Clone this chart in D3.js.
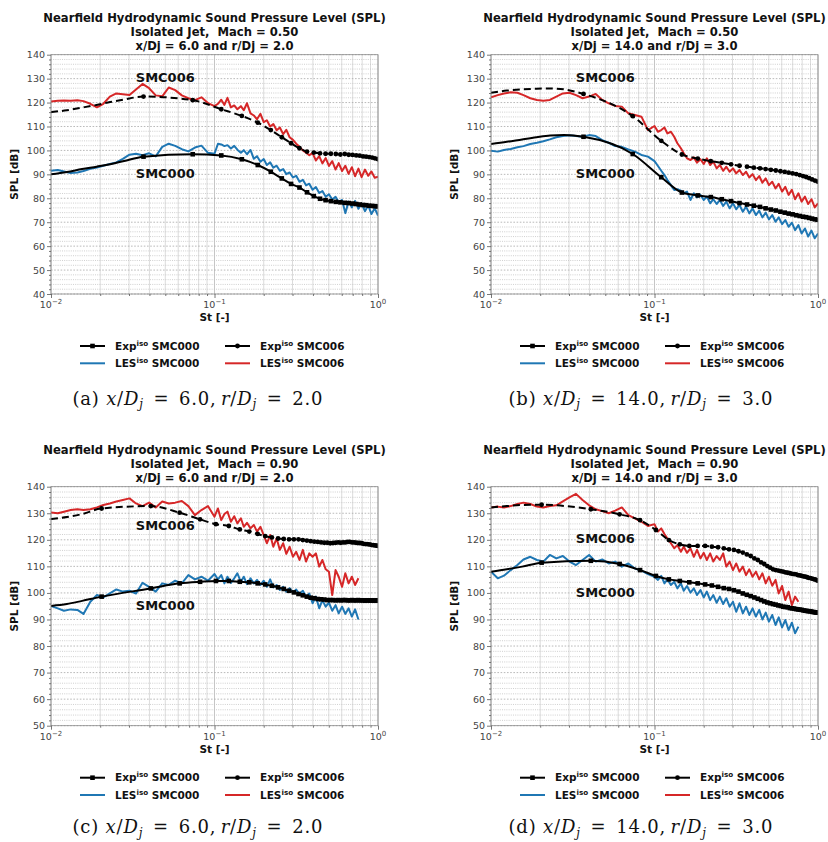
<!DOCTYPE html>
<html>
<head>
<meta charset="utf-8">
<script src="https://cdn.jsdelivr.net/npm/d3@7"></script>
<style>
  body { margin: 0; background: #fff; }
  svg { display: block; }
  text { white-space: pre; }
</style>
</head>
<body>
<svg id="fig" width="828" height="842"></svg>
<script>
// ---------------- Strouhal grids ----------------
// LES spectra are sampled on this common St grid
const lesSt = [0.0100, 0.0110, 0.0120, 0.0132, 0.0145, 0.0158, 0.0174, 0.0191, 0.0209, 0.0229,
  0.0251, 0.0275, 0.0302, 0.0331, 0.0363, 0.0398, 0.0437, 0.0479, 0.0525, 0.0575,
  0.0631, 0.0692, 0.0759, 0.0832, 0.0912, 0.100, 0.105, 0.110, 0.115, 0.120,
  0.126, 0.132, 0.138, 0.145, 0.151, 0.158, 0.166, 0.174, 0.182, 0.191,
  0.200, 0.209, 0.219, 0.229, 0.240, 0.251, 0.263, 0.275, 0.288, 0.302,
  0.316, 0.331, 0.347, 0.363, 0.380, 0.398, 0.417, 0.437, 0.457, 0.479,
  0.501, 0.525, 0.550, 0.575, 0.603, 0.631, 0.661, 0.692, 0.724, 0.759,
  0.794, 0.832, 0.871, 0.912, 0.955, 1.000];

// Experimental spectra: low-St fit points (no marker) followed by measured bins (marked)
const expLineStM05 = [0.010, 0.0125, 0.0155, 0.019, 0.023, 0.028];
const expBinStM05 = [0.0368, 0.0736, 0.110, 0.147, 0.184, 0.221, 0.258, 0.294, 0.331, 0.368,
  0.405, 0.442, 0.478, 0.515, 0.552, 0.589, 0.626, 0.662, 0.699, 0.736,
  0.773, 0.810, 0.846, 0.883, 0.920, 0.957, 0.994];
const expLineStM09 = [0.010, 0.0125, 0.0155];
const expBinStM09 = [0.0204, 0.0408, 0.0612, 0.0816, 0.102, 0.1224, 0.1428, 0.1632, 0.1836, 0.204,
  0.2244, 0.2448, 0.2652, 0.2856, 0.306, 0.3264, 0.3468, 0.3672, 0.3876, 0.408,
  0.4284, 0.4488, 0.4692, 0.4896, 0.510, 0.5304, 0.5508, 0.5712, 0.5916, 0.612,
  0.6324, 0.6528, 0.6732, 0.6936, 0.714, 0.7344, 0.7548, 0.7752, 0.7956, 0.816,
  0.8364, 0.8568, 0.8772, 0.8976, 0.918, 0.9384, 0.9588, 0.9792, 0.9996];

// ---------------- SPL [dB] ----------------
// (a) Mach 0.50, x/Dj = 6, r/Dj = 2
const expA000 = [90.0, 91.0, 92.2, 93.2, 94.2, 95.6,
  97.4, 98.4, 97.9, 96.3, 93.9, 91.1, 88.3, 86.0, 84.5, 82.5,
  80.9, 79.8, 79.2, 78.8, 78.5, 78.3, 78.1, 78.0, 77.8, 77.6,
  77.4, 77.2, 77.1, 76.9, 76.8, 76.7, 76.6];
const expA006 = [116.0, 116.8, 117.9, 119.0, 120.2, 121.3,
  122.5, 121.0, 117.2, 114.4, 111.6, 108.5, 105.5, 103.0, 100.9, 99.5,
  99.1, 98.8, 98.6, 98.6, 98.5, 98.3, 98.5, 98.2, 98.1, 97.9,
  97.8, 97.5, 97.4, 97.2, 97.0, 96.7, 96.4];
const lesA000 = [91.5, 91.8, 91.2, 90.6, 90.8, 91.4, 92.3, 92.9, 93.6, 94.3,
  95.0, 96.5, 98.2, 98.6, 98.0, 98.8, 97.5, 101.5, 102.8, 101.9,
  100.5, 99.6, 101.2, 102.0, 99.0, 98.6, 102.8, 102.5, 101.8, 102.2,
  100.8, 101.9, 100.3, 99.0, 100.1, 98.4, 100.2, 96.5, 97.6, 95.3,
  96.4, 93.9, 95.0, 92.8, 93.6, 91.5, 92.2, 90.1, 90.8, 88.7,
  89.4, 86.9, 87.7, 85.4, 86.1, 83.6, 84.7, 82.2, 83.0, 80.6,
  81.7, 79.5, 80.6, 78.4, 79.3, 73.8, 78.6, 76.2, 78.9, 75.6,
  77.8, 74.6, 77.0, 73.4, 75.8, 72.8];
const lesA006 = [120.4, 120.8, 120.9, 120.8, 121.0, 120.6, 119.5, 118.0, 119.5, 122.5,
  123.8, 123.5, 123.2, 125.5, 127.8, 126.0, 123.0, 122.6, 126.3, 125.2,
  123.0, 121.8, 121.0, 122.2, 119.8, 118.5, 119.5, 121.2, 119.0, 122.0,
  118.0, 118.8, 117.2, 118.5, 116.8, 119.7, 115.5, 114.6, 113.0, 115.3,
  111.8, 112.6, 110.0, 111.0, 108.4, 109.6, 106.8, 108.6, 105.5, 104.4,
  102.8, 101.5, 100.0, 99.0, 98.0, 98.9, 95.8, 97.6, 94.6, 96.8,
  93.5, 95.5, 92.0, 94.7, 91.4, 93.6, 90.2, 93.0, 89.2, 92.4,
  88.8, 92.0, 89.4, 91.2, 88.6, 89.0];

// (b) Mach 0.50, x/Dj = 14, r/Dj = 3
const expB000 = [102.7, 103.6, 104.6, 105.5, 106.2, 106.4,
  105.7, 98.5, 88.8, 82.4, 81.2, 80.5, 79.6, 78.8, 78.0, 77.4,
  76.9, 76.4, 75.8, 75.3, 74.9, 74.4, 74.0, 73.6, 73.3, 72.9,
  72.6, 72.3, 72.1, 71.8, 71.5, 71.2, 71.0];
const expB006 = [124.1, 125.0, 125.5, 125.8, 125.9, 125.5,
  123.6, 114.3, 104.0, 98.3, 96.6, 95.5, 94.8, 94.2, 93.6, 93.2,
  92.8, 92.5, 92.2, 91.9, 91.6, 91.3, 91.0, 90.7, 90.4, 90.1,
  89.7, 89.3, 88.9, 88.4, 87.9, 87.4, 87.0];
const lesB000 = [99.9, 99.5, 100.2, 100.6, 101.3, 101.8, 102.7, 103.2, 103.8, 104.6,
  105.5, 106.0, 106.3, 106.0, 105.7, 106.4, 106.0, 104.3, 103.2, 101.8,
  101.5, 100.4, 99.5, 98.1, 97.4, 95.5, 93.5, 91.5, 89.7, 87.6,
  85.5, 83.5, 83.8, 83.2, 82.1, 82.8, 79.3, 82.1, 80.4, 81.4,
  79.3, 80.7, 77.9, 79.6, 77.6, 79.3, 76.8, 78.6, 75.8, 77.9,
  75.4, 77.2, 74.4, 76.5, 73.7, 75.8, 73.0, 74.8, 72.0, 74.0,
  71.2, 73.0, 70.2, 72.0, 69.2, 70.9, 68.1, 69.8, 66.7, 68.8,
  65.3, 67.4, 64.0, 66.5, 63.3, 65.3];
const lesB006 = [122.2, 123.1, 123.8, 124.3, 124.1, 123.1, 121.8, 121.1, 120.8, 121.1,
  122.5, 123.8, 124.1, 123.1, 121.8, 122.5, 123.6, 121.1, 119.7, 118.6,
  118.3, 115.5, 114.8, 114.1, 108.5, 110.2, 107.8, 108.5, 109.6, 107.1,
  107.8, 105.7, 103.0, 100.9, 98.8, 96.7, 96.0, 97.1, 94.9, 96.3,
  94.3, 96.7, 93.9, 95.3, 92.5, 93.9, 91.5, 93.2, 91.1, 92.5,
  90.4, 91.8, 89.7, 91.1, 88.7, 90.1, 87.6, 89.3, 86.5, 88.3,
  85.5, 86.9, 84.1, 86.0, 82.8, 84.8, 81.4, 83.5, 79.6, 82.1,
  78.6, 80.7, 77.6, 79.6, 76.2, 77.9];

// (c) Mach 0.90, x/Dj = 6, r/Dj = 2
const expC000 = [95.1, 95.8, 97.0,
  98.6, 101.7, 103.6, 104.2, 104.5, 104.5, 104.2, 104.0, 103.6, 103.2,
  102.7, 102.1, 101.5, 100.8, 100.2, 99.6, 99.1, 98.6, 98.2, 98.0,
  97.7, 97.6, 97.5, 97.3, 97.3, 97.3, 97.2, 97.3, 97.2, 97.3,
  97.3, 97.2, 97.2, 97.3, 97.2, 97.2, 97.3, 97.2, 97.2, 97.2,
  97.1, 97.2, 97.2, 97.1, 97.2, 97.1, 97.1, 97.2, 97.1];
const expC006 = [127.8, 128.6, 129.7,
  131.8, 132.7, 130.2, 127.7, 125.9, 125.2, 123.9, 123.1, 122.2, 121.4,
  120.9, 120.5, 120.3, 120.2, 120.2, 120.2, 119.9, 119.7, 119.5, 119.3,
  119.2, 119.0, 118.9, 118.9, 118.7, 118.8, 118.9, 119.0, 118.9, 119.0,
  119.0, 119.2, 119.2, 119.0, 119.0, 118.9, 118.8, 118.8, 118.7, 118.5,
  118.4, 118.4, 118.3, 118.2, 118.0, 118.0, 117.9, 117.8, 117.7];
const lesC000 = [95.1, 94.2, 93.3, 93.8, 93.6, 92.1, 96.7, 99.2, 98.3, 99.8,
  101.3, 100.5, 100.8, 99.8, 103.8, 102.3, 100.5, 103.6, 103.0, 104.6,
  103.6, 106.7, 105.1, 106.1, 104.6, 107.1, 105.1, 106.7, 103.6, 106.1,
  103.8, 105.5, 107.4, 104.2, 106.1, 103.3, 105.5, 103.6, 104.9, 103.0,
  104.6, 102.3, 105.1, 102.1, 103.0, 101.1, 102.3, 100.5, 101.8, 100.1,
  101.3, 99.6, 100.8, 98.6, 99.8, 96.1, 98.6, 94.2, 97.3, 94.8,
  96.3, 93.3, 95.4, 92.3, 94.8, 92.1, 94.2, 91.1, 93.8, 90.0];
const lesC006 = [130.3, 130.0, 130.6, 131.2, 131.5, 131.2, 131.5, 132.2, 133.1, 133.7,
  134.4, 135.0, 135.6, 133.7, 132.7, 134.0, 132.2, 134.4, 133.7, 134.0,
  134.6, 132.7, 129.3, 131.2, 132.7, 128.7, 131.8, 127.4, 129.7, 130.6,
  126.8, 128.9, 126.2, 128.1, 124.9, 126.4, 124.3, 125.6, 123.1, 124.9,
  121.8, 118.7, 121.8, 117.4, 120.5, 116.2, 118.7, 114.7, 117.4, 113.6,
  115.5, 112.4, 116.2, 111.8, 114.9, 113.6, 114.9, 109.9, 112.4, 108.9,
  108.0, 99.2, 108.6, 106.1, 102.3, 107.4, 103.6, 106.1, 103.0, 105.5];

// (d) Mach 0.90, x/Dj = 14, r/Dj = 3
const expD000 = [108.0, 108.9, 109.9,
  111.4, 112.1, 110.9, 108.6, 106.4, 105.1, 104.5, 104.0, 103.6, 103.2,
  102.8, 102.3, 101.8, 101.5, 101.0, 100.5, 99.8, 99.3, 98.8, 98.3,
  97.8, 97.3, 96.8, 96.4, 96.1, 95.8, 95.6, 95.3, 95.1, 94.8,
  94.7, 94.6, 94.3, 94.2, 94.1, 93.9, 93.8, 93.7, 93.6, 93.4,
  93.3, 93.2, 93.1, 93.1, 92.9, 92.8, 92.7, 92.6, 92.6];
const expD006 = [132.2, 132.7, 133.1,
  133.2, 131.5, 129.6, 127.4, 123.7, 119.9, 118.3, 117.7, 117.7, 117.7,
  117.4, 117.2, 116.8, 116.4, 116.2, 115.7, 115.2, 114.5, 113.9, 113.0,
  112.4, 111.5, 110.9, 110.1, 109.5, 108.9, 108.6, 108.4, 108.2, 108.0,
  107.7, 107.6, 107.4, 107.2, 107.1, 107.0, 106.7, 106.6, 106.4, 106.2,
  106.1, 105.9, 105.7, 105.6, 105.4, 105.2, 105.1, 104.8, 104.6];
const lesD000 = [108.0, 105.5, 106.5, 108.6, 110.5, 112.6, 113.6, 112.4, 111.8, 114.3,
  113.0, 113.9, 111.8, 110.5, 112.4, 114.3, 111.8, 112.6, 111.1, 111.8,
  109.9, 111.1, 109.2, 108.4, 107.1, 106.1, 104.9, 106.4, 103.6, 105.1,
  103.0, 104.2, 101.7, 103.6, 100.8, 102.6, 100.1, 101.7, 99.2, 101.1,
  98.3, 100.5, 97.3, 99.2, 96.3, 98.6, 95.8, 98.0, 94.8, 96.7,
  92.9, 96.1, 92.3, 94.8, 91.7, 94.2, 91.1, 93.6, 90.0, 92.6,
  89.2, 91.7, 87.9, 90.8, 87.0, 89.8, 86.0, 88.8, 84.8, 87.3];
const lesD006 = [132.2, 132.5, 132.2, 132.7, 133.5, 134.0, 133.5, 132.5, 132.2, 132.7,
  133.0, 134.5, 136.0, 137.3, 135.0, 133.0, 131.5, 130.8, 130.0, 131.0,
  132.2, 129.3, 128.1, 126.8, 125.2, 125.9, 123.1, 124.3, 122.2, 120.5,
  118.7, 116.8, 118.0, 115.5, 117.4, 115.1, 116.8, 113.6, 116.2, 113.0,
  115.1, 112.4, 114.9, 111.8, 113.9, 112.4, 114.9, 109.9, 111.8, 108.6,
  111.1, 108.0, 109.9, 106.7, 108.9, 106.1, 108.0, 105.1, 107.4, 103.6,
  106.1, 102.7, 104.9, 99.8, 102.6, 97.3, 100.5, 95.4, 98.6, 96.7];

// ---------------- axis ticks and labels ----------------
const yTicksTop = [40, 50, 60, 70, 80, 90, 100, 110, 120, 130, 140];
const yTicksBottom = [50, 60, 70, 80, 90, 100, 110, 120, 130, 140];
const xTicks = [0.01, 0.1, 1];
const xTickExp = ['\u22122', '\u22121', '0'];
const titleLine1 = 'Nearfield Hydrodynamic Sound Pressure Level (SPL)';
const legendNames = ['SMC000', 'SMC006'];

// ---------------- styling ----------------
const FONT = "'DejaVu Sans', Verdana, sans-serif";
const SERIF = "'DejaVu Serif', 'Liberation Serif', serif";
const RED = '#d62728', BLUE = '#1f77b4';
const PW = 327;

const svg = d3.select('#fig');
svg.append('rect').attr('width', 828).attr('height', 842).attr('fill', '#fff');

function expSeries(lineSt, binSt, spl) {
  const st = lineSt.concat(binSt);
  return spl.map((v, i) => ({ st: st[i], spl: v, mark: i >= lineSt.length }));
}
function lesSeries(spl) {
  return spl.map((v, i) => ({ st: lesSt[i], spl: v }));
}

const panels = [
  { key: 'a', left: 51, top: 54.7, height: 239.3, yTicks: yTicksTop, mach: '0.50', xd: '6.0', rd: '2.0',
    exp000: expSeries(expLineStM05, expBinStM05, expA000), exp006: expSeries(expLineStM05, expBinStM05, expA006),
    les000: lesSeries(lesA000), les006: lesSeries(lesA006),
    notes: [{ t: 'SMC006', st: 0.05, spl: 130.5 }, { t: 'SMC000', st: 0.05, spl: 90.6 }],
    capX: 197.5, capW: 250, capDy: 110.5 },
  { key: 'b', left: 491, top: 54.7, height: 239.3, yTicks: yTicksTop, mach: '0.50', xd: '14.0', rd: '3.0',
    exp000: expSeries(expLineStM05, expBinStM05, expB000), exp006: expSeries(expLineStM05, expBinStM05, expB006),
    les000: lesSeries(lesB000), les006: lesSeries(lesB006),
    notes: [{ t: 'SMC006', st: 0.05, spl: 130.5 }, { t: 'SMC000', st: 0.05, spl: 90.6 }],
    capX: 640.5, capW: 264, capDy: 110.5 },
  { key: 'c', left: 51, top: 486.7, height: 239, yTicks: yTicksBottom, mach: '0.90', xd: '6.0', rd: '2.0',
    exp000: expSeries(expLineStM09, expBinStM09, expC000), exp006: expSeries(expLineStM09, expBinStM09, expC006),
    les000: lesSeries(lesC000), les006: lesSeries(lesC006),
    notes: [{ t: 'SMC006', st: 0.05, spl: 125.5 }, { t: 'SMC000', st: 0.05, spl: 95.5 }],
    capX: 197.5, capW: 250, capDy: 107.5 },
  { key: 'd', left: 491, top: 486.7, height: 239, yTicks: yTicksBottom, mach: '0.90', xd: '14.0', rd: '3.0',
    exp000: expSeries(expLineStM09, expBinStM09, expD000), exp006: expSeries(expLineStM09, expBinStM09, expD006),
    les000: lesSeries(lesD000), les006: lesSeries(lesD006),
    notes: [{ t: 'SMC006', st: 0.05, spl: 120.6 }, { t: 'SMC000', st: 0.05, spl: 100.4 }],
    capX: 640.5, capW: 264, capDy: 107.5 }
];

function drawPanel(p) {
  const H = p.height;
  const yMin = p.yTicks[0], yMax = p.yTicks[p.yTicks.length - 1];
  const x = d3.scaleLog().domain([xTicks[0], xTicks[xTicks.length - 1]]).range([0, PW]);
  const y = d3.scaleLinear().domain([yMin, yMax]).range([H, 0]);
  const g = svg.append('g').attr('transform', `translate(${p.left},${p.top})`);

  // grid: verticals at every log subdivision, dotted horizontals every 2 dB
  const xAll = x.ticks();
  g.append('g').selectAll('line').data(xAll).join('line')
    .attr('x1', d => x(d)).attr('x2', d => x(d)).attr('y1', 0).attr('y2', H)
    .attr('stroke', d => xTicks.includes(d) ? '#b8b8b8' : '#d2d2d2').attr('stroke-width', 0.8);
  const yMinor = d3.range(yMin, yMax + 0.01, 2);
  g.append('g').selectAll('line').data(yMinor).join('line')
    .attr('x1', 0).attr('x2', PW).attr('y1', d => y(d)).attr('y2', d => y(d))
    .attr('stroke', d => d % 10 === 0 ? '#a8a8a8' : '#c4c4c4')
    .attr('stroke-width', 0.8).attr('stroke-dasharray', d => d % 10 === 0 ? '1.6,1.6' : '1,1.2');

  // clip lines to the axes box
  const clipId = 'clip-' + p.key;
  g.append('clipPath').attr('id', clipId).append('rect').attr('width', PW).attr('height', H);
  const plot = g.append('g').attr('clip-path', `url(#${clipId})`);

  const smooth = d3.line().x(d => x(d.st)).y(d => y(d.spl)).curve(d3.curveMonotoneX);
  const raw = d3.line().x(d => x(d.st)).y(d => y(d.spl));

  plot.append('path').datum(p.les000).attr('d', raw)
    .attr('fill', 'none').attr('stroke', BLUE).attr('stroke-width', 2).attr('stroke-linejoin', 'round');
  plot.append('path').datum(p.les006).attr('d', raw)
    .attr('fill', 'none').attr('stroke', RED).attr('stroke-width', 2).attr('stroke-linejoin', 'round');

  plot.append('path').datum(p.exp000).attr('d', smooth)
    .attr('fill', 'none').attr('stroke', '#000').attr('stroke-width', 2);
  plot.append('g').selectAll('rect').data(p.exp000.filter(d => d.mark)).join('rect')
    .attr('x', d => x(d.st) - 2.3).attr('y', d => y(d.spl) - 2.3)
    .attr('width', 4.6).attr('height', 4.6).attr('fill', '#000');

  plot.append('path').datum(p.exp006).attr('d', smooth)
    .attr('fill', 'none').attr('stroke', '#000').attr('stroke-width', 2).attr('stroke-dasharray', '7,4');
  plot.append('g').selectAll('circle').data(p.exp006.filter(d => d.mark)).join('circle')
    .attr('cx', d => x(d.st)).attr('cy', d => y(d.spl)).attr('r', 2.4).attr('fill', '#000');

  // curve annotations
  g.append('g').selectAll('text').data(p.notes).join('text')
    .attr('x', d => x(d.st)).attr('y', d => y(d.spl)).attr('dy', '0.36em')
    .attr('text-anchor', 'middle').attr('font-family', FONT).attr('font-weight', 'bold')
    .attr('font-size', 13).attr('fill', '#111').text(d => d.t);

  // frame
  g.append('rect').attr('width', PW).attr('height', H).attr('fill', 'none')
    .attr('stroke', '#8a8a8a').attr('stroke-width', 0.8);

  // y axis
  const yAx = g.append('g').call(d3.axisLeft(y).tickValues(p.yTicks).tickSize(4).tickPadding(2).tickFormat(d3.format('d')));
  const yAxMinor = g.append('g').call(d3.axisLeft(y).tickValues(yMinor.filter(v => v % 10 !== 0)).tickSize(2).tickFormat(''));
  // x axis
  const xAx = g.append('g').attr('transform', `translate(0,${H})`)
    .call(d3.axisBottom(x).tickValues(xTicks).tickSize(4).tickPadding(3).tickFormat(''));
  const xAxMinor = g.append('g').attr('transform', `translate(0,${H})`)
    .call(d3.axisBottom(x).tickValues(xAll.filter(v => !xTicks.includes(v))).tickSize(2).tickFormat(''));
  [yAx, yAxMinor, xAx, xAxMinor].forEach(a => {
    a.select('.domain').remove();
    a.selectAll('.tick line').attr('stroke', '#555').attr('stroke-width', 0.8);
  });
  yAx.selectAll('.tick text').attr('font-family', FONT).attr('font-size', 9.5).attr('fill', '#444');

  // power-of-ten tick labels
  xTicks.forEach((v, i) => {
    const t = g.append('text').attr('x', x(v)).attr('y', H + 14).attr('text-anchor', 'middle')
      .attr('font-family', FONT).attr('font-size', 9.5).attr('fill', '#444');
    t.append('tspan').text('10');
    t.append('tspan').attr('dy', -4).attr('font-size', 7).text(xTickExp[i]);
  });

  // axis titles
  g.append('text').attr('x', PW / 2).attr('y', H + 27.5).attr('text-anchor', 'middle')
    .attr('font-family', FONT).attr('font-weight', 'bold').attr('font-size', 10.5).attr('fill', '#111')
    .text('St [-]');
  g.append('text').attr('transform', `translate(-33.5,${H / 2}) rotate(-90)`).attr('text-anchor', 'middle')
    .attr('font-family', FONT).attr('font-weight', 'bold').attr('font-size', 10.5).attr('fill', '#111')
    .text('SPL [dB]');

  // title
  const titles = [titleLine1, `Isolated Jet,  Mach = ${p.mach}`, `x/Dj = ${p.xd} and r/Dj = ${p.rd}`];
  const tOff = [-33.2, -18.8, -5.2];
  titles.forEach((s, i) => {
    g.append('text').attr('x', PW / 2).attr('y', tOff[i]).attr('text-anchor', 'middle')
      .attr('font-family', FONT).attr('font-weight', 'bold').attr('font-size', 11.6).attr('fill', '#111').text(s);
  });

  // legend (two columns)
  const items = [
    { col: 0, row: 0, kind: 'exp000', label: 'Exp', name: legendNames[0] },
    { col: 0, row: 1, kind: 'les000', label: 'LES', name: legendNames[0] },
    { col: 1, row: 0, kind: 'exp006', label: 'Exp', name: legendNames[1] },
    { col: 1, row: 1, kind: 'les006', label: 'LES', name: legendNames[1] }
  ];
  const colX = [29, 174];
  const rowY = [H + 52, H + 69.3];
  items.forEach(it => {
    const lx = colX[it.col], ly = rowY[it.row];
    const color = it.kind === 'les000' ? BLUE : it.kind === 'les006' ? RED : '#000';
    g.append('line').attr('x1', lx).attr('x2', lx + 25).attr('y1', ly).attr('y2', ly)
      .attr('stroke', color).attr('stroke-width', 2);
    if (it.kind === 'exp000') {
      g.append('rect').attr('x', lx + 10.2).attr('y', ly - 2.3).attr('width', 4.6).attr('height', 4.6).attr('fill', '#000');
    } else if (it.kind === 'exp006') {
      g.append('circle').attr('cx', lx + 12.5).attr('cy', ly).attr('r', 2.4).attr('fill', '#000');
    }
    const t = g.append('text').attr('x', lx + 35).attr('y', ly + 3.8)
      .attr('font-family', FONT).attr('font-weight', 'bold').attr('font-size', 10.5).attr('fill', '#111');
    t.append('tspan').text(it.label);
    t.append('tspan').attr('dy', -4).attr('font-size', 7.2).text('iso');
    t.append('tspan').attr('dy', 4).text(' ' + it.name);
  });

  // sub-figure caption, math-style spacing around the equals signs
  const cap = svg.append('text').attr('x', p.capX - p.capW / 2).attr('y', p.top + H + p.capDy)
    .attr('textLength', p.capW).attr('lengthAdjust', 'spacing')
    .attr('font-family', SERIF).attr('font-size', 18).attr('fill', '#111');
  const EQ = '\u2002=\u2002';
  const parts = [
    ['(' + p.key + ') ', 'normal', 0], ['x', 'italic', 0], ['/', 'normal', 0], ['D', 'italic', 0], ['j', 'italic', 1],
    [EQ + p.xd + ',\u2009', 'normal', -1], ['r', 'italic', 0], ['/', 'normal', 0], ['D', 'italic', 0], ['j', 'italic', 1],
    [EQ + p.rd, 'normal', -1]
  ];
  parts.forEach(([s, style, shift]) => {
    const ts = cap.append('tspan').attr('font-style', style).text(s);
    if (shift === 1) ts.attr('dy', 3.4).attr('font-size', 12);
    if (shift === -1) ts.attr('dy', -3.4);
  });
}

panels.forEach(drawPanel);
</script>
</body>
</html>
